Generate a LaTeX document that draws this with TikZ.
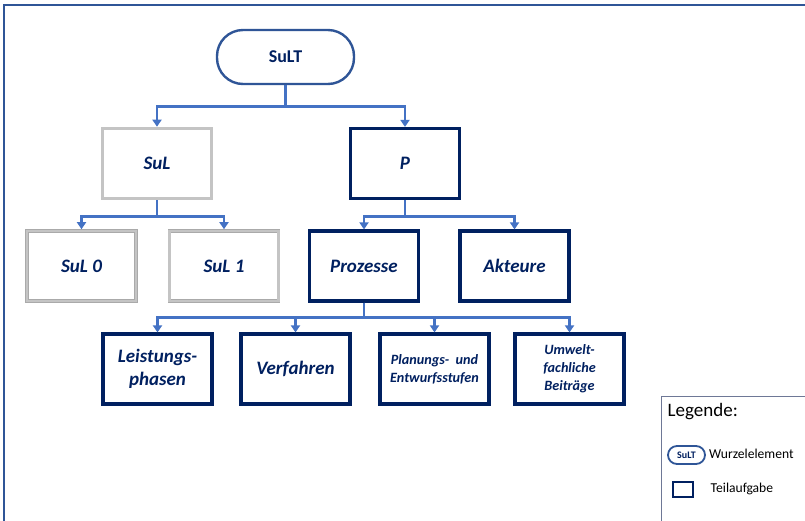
\documentclass[tikz,border=0pt]{standalone}
\usepackage{fontspec}
\setmainfont{Carlito}
\usetikzlibrary{arrows.meta}
\definecolor{navy}{RGB}{0,32,96}
\definecolor{rootblue}{RGB}{47,85,151}
\definecolor{connblue}{RGB}{68,114,196}
\definecolor{boxgray}{RGB}{196,196,196}
\definecolor{boxgrayedge}{RGB}{170,170,170}
\definecolor{leggray}{RGB}{110,120,150}
\tikzset{
  rootbox/.style={draw=rootblue, line width=2.4pt, rounded corners=26pt, fill=white,
    minimum width=137pt, minimum height=54pt, inner sep=0pt,
    text=navy, font=\fontsize{18}{21}\selectfont\bfseries},
  graybox/.style={draw=boxgrayedge, line width=3.6pt, fill=white,
    minimum width=109pt, minimum height=70pt, inner sep=0pt,
    text=navy, font=\fontsize{19}{23}\selectfont\bfseries\itshape,
    postaction={draw=boxgray, line width=2.2pt}},
  taskbox/.style={draw=navy, line width=3.2pt, fill=white,
    minimum width=109pt, minimum height=70pt, inner sep=0pt, align=center,
    text=navy, font=\fontsize{19}{23}\selectfont\bfseries\itshape},
  smalltext/.style={font=\fontsize{14.2}{17.8}\selectfont\bfseries\itshape},
  conn/.style={draw=connblue, line width=2.8pt,
    -{Triangle[width=9pt,length=7pt]}},
  frameline/.style={draw=rootblue, line width=1.4pt},
  legtext/.style={anchor=west, inner sep=0pt, text=black}
}
\begin{document}
\begin{tikzpicture}[x=1pt,y=-1pt]
\useasboundingbox (0,0) rectangle (805,520);
\fill[white] (0,0) rectangle (805,520);
% outer frame
\draw[frameline] (806,5) -- (4,5) -- (4,521);

% nodes
\node[rootbox] (sult) at (285.5,57) {SuLT};
\node[graybox] (sul) at (157,163.5) {SuL};
\node[taskbox] (p) at (405,163.5) {P};
\node[graybox] (sul0) at (81.5,266) {SuL 0};
\node[graybox] (sul1) at (224,266) {SuL 1};
\node[taskbox] (proz) at (364,266) {Prozesse};
\node[taskbox] (akt) at (514.5,266) {Akteure};
\node[taskbox] (leist) at (157.5,369) {Leistungs-\\[0pt]phasen};
\node[taskbox] (verf) at (295.5,369) {Verfahren};
\node[taskbox, smalltext] (plan) at (434.5,369) {Planungs-~ und\\Entwurfsstufen};
\node[taskbox, smalltext] (umw) at (569.5,369) {Umwelt-\\fachliche\\Beiträge};

% connectors
\draw[conn] (sult.south) -- ++(0,21) -| (sul.north);
\draw[conn] (sult.south) -- ++(0,21) -| (p.north);
\draw[conn] (sul.south) -- ++(0,16) -| (sul0.north);
\draw[conn] (sul.south) -- ++(0,16) -| (sul1.north);
\draw[conn] (p.south) -- ++(0,16) -| (proz.north);
\draw[conn] (p.south) -- ++(0,16) -| (akt.north);
\draw[conn] (proz.south) -- ++(0,15) -| (leist.north);
\draw[conn] (proz.south) -- ++(0,15) -| (verf.north);
\draw[conn] (proz.south) -- ++(0,15) -| (plan.north);
\draw[conn] (proz.south) -- ++(0,15) -| (umw.north);

% legend
\draw[draw=leggray, line width=1pt] (806,396) -- (661,396) -- (661,521);
\node[legtext, font=\fontsize{19}{22}\selectfont] (legtitle) at (667.5,412) {Legende:};
\node[draw=rootblue, line width=1.8pt, rounded corners=9pt, minimum width=37pt,
  minimum height=18pt, inner sep=0pt, text=navy,
  font=\fontsize{10}{11}\selectfont\bfseries] (legroot) at (686.5,455) {SuLT};
\node[legtext, font=\fontsize{13.6}{16}\selectfont] (legroottext) at (709,453.5) {Wurzelelement};
\node[draw=navy, line width=2.4pt, minimum width=20pt, minimum height=15pt,
  inner sep=0pt] (legtask) at (683,489.5) {};
\node[legtext, font=\fontsize{13.6}{16}\selectfont] (legtasktext) at (710.5,488.5) {Teilaufgabe};
\end{tikzpicture}
\end{document}
